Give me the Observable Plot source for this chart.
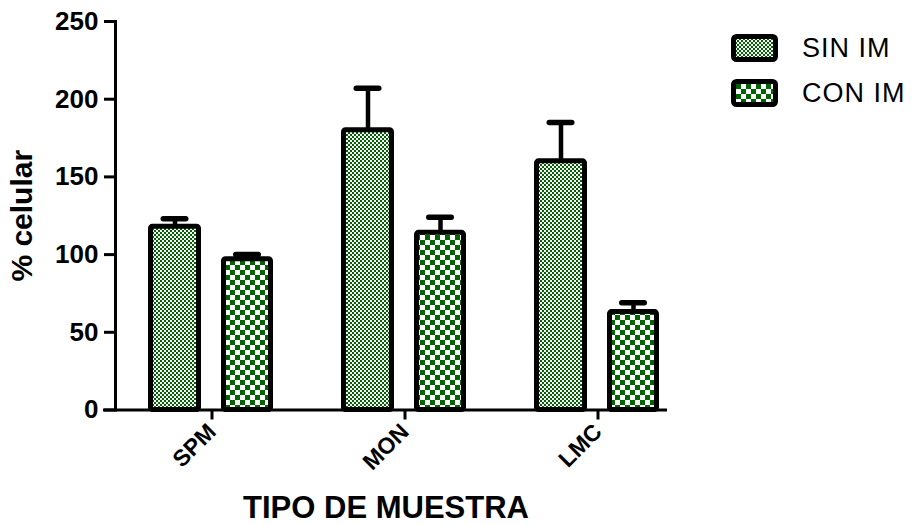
<!DOCTYPE html>
<html>
<head>
<meta charset="utf-8">
<script src="https://cdn.jsdelivr.net/npm/d3@7"></script>
<script src="https://cdn.jsdelivr.net/npm/@observablehq/plot@0.6"></script>
<style>
  body { margin: 0; background: #fff; font-family: "Liberation Sans", Arial, sans-serif; }
  #wrap { position: relative; width: 915px; height: 525px; }
  .legend-item { position: absolute; left: 731px; display: flex; align-items: center; }
  .legend-item span { margin-left: 23px; font-size: 27px; letter-spacing: 1px; color: #000; }
</style>
</head>
<body>
<svg width="0" height="0" style="position:absolute">
  <defs>
    <pattern id="pSIN" patternUnits="userSpaceOnUse" width="4" height="4">
      <rect width="4" height="4" fill="#fff"/>
      <rect width="2" height="2" fill="#006400"/>
      <rect x="2" y="2" width="2" height="2" fill="#006400"/>
    </pattern>
    <pattern id="pCON" patternUnits="userSpaceOnUse" width="10" height="10">
      <rect width="10" height="10" fill="#fff"/>
      <rect width="5" height="5" fill="#006400"/>
      <rect x="5" y="5" width="5" height="5" fill="#006400"/>
    </pattern>
  </defs>
</svg>
<div id="wrap"></div>
<script>
const categories = ["SPM", "MON", "LMC"];
const seriesNames = ["SIN IM", "CON IM"];
const sinMean = [118, 180, 160];
const sinErr = [5, 27, 25];
const conMean = [97, 114, 63];
const conErr = [3, 10, 6];
const yTicks = [0, 50, 100, 150, 200, 250];
const yLabel = "% celular";
const xLabel = "TIPO DE MUESTRA";

const sinRows = categories.map((c, i) => ({cat: c, series: seriesNames[0], mean: sinMean[i], err: sinErr[i]}));
const conRows = categories.map((c, i) => ({cat: c, series: seriesNames[1], mean: conMean[i], err: conErr[i]}));

const errTop = d => d.mean + d.err;

const chart = Plot.plot({
  width: 915,
  height: 525,
  marginLeft: 115,
  marginRight: 221,
  marginTop: 21,
  marginBottom: 115.5,
  style: {fontFamily: "'Liberation Sans', Arial, sans-serif", color: "#000", background: "#fff", overflow: "visible"},
  x: {type: "band", domain: categories, padding: 0, round: false},
  y: {domain: [0, 250]},
  marks: [
    Plot.ruleX(sinRows, {x: "cat", y1: "mean", y2: errTop, dx: -37, stroke: "#000", strokeWidth: 4.5}),
    Plot.ruleX(conRows, {x: "cat", y1: "mean", y2: errTop, dx: 35.5, stroke: "#000", strokeWidth: 4.5}),
    Plot.tickY(sinRows, {x: "cat", y: errTop, insetLeft: 48.25, insetRight: 122.25, stroke: "#000", strokeWidth: 5.5, strokeLinecap: "round"}),
    Plot.tickY(conRows, {x: "cat", y: errTop, insetLeft: 120.75, insetRight: 49.75, stroke: "#000", strokeWidth: 5.5, strokeLinecap: "round"}),
    Plot.barY(sinRows, {x: "cat", y: "mean", fill: "url(#pSIN)", stroke: "#000", strokeWidth: 5, strokeLinejoin: "round", insetLeft: 35.5, insetRight: 109.5, rx: 2}),
    Plot.barY(conRows, {x: "cat", y: "mean", fill: "url(#pCON)", stroke: "#000", strokeWidth: 5, strokeLinejoin: "round", insetLeft: 108.5, insetRight: 37.5, rx: 2}),
    Plot.ruleY([0], {stroke: "#000", strokeWidth: 3, insetLeft: -12, insetRight: 27}),
    Plot.frame({anchor: "left", stroke: "#000", strokeWidth: 3}),
    Plot.axisY(yTicks, {tickSize: 11, tickPadding: 6, stroke: "#000", fill: "#000", strokeWidth: 3, fontSize: 26, fontWeight: "bold", label: null}),
    Plot.axisX({tickSize: 10, tickPadding: 8, stroke: "#000", fill: "#000", strokeWidth: 3, tickRotate: -45, fontSize: 23, fontWeight: "bold", label: null}),
    Plot.text([yLabel], {frameAnchor: "left", rotate: -90, dx: -93, lineAnchor: "middle", textAnchor: "middle", fill: "#000", fontSize: 30, fontWeight: "bold"}),
    Plot.text([xLabel], {frameAnchor: "bottom", dx: -19, dy: 98.5, lineAnchor: "middle", textAnchor: "middle", fill: "#000", fontSize: 31, fontWeight: "bold"})
  ]
});

document.getElementById("wrap").appendChild(chart);

const legendRows = [
  {name: seriesNames[0], fill: "url(#pSIN)", pos: 33},
  {name: seriesNames[1], fill: "url(#pCON)", pos: 78}
];
const wrap = d3.select("#wrap");
for (const r of legendRows) {
  const item = wrap.append("div").attr("class", "legend-item").style("top", r.pos + "px");
  const s = item.append("svg").attr("width", 48).attr("height", 29);
  s.append("rect").attr("x", 2.5).attr("y", 2.5).attr("width", 42).attr("height", 23).attr("rx", 3)
    .attr("fill", r.fill).attr("stroke", "#000").attr("stroke-width", 5);
  item.append("span").text(r.name);
}
</script>
</body>
</html>
